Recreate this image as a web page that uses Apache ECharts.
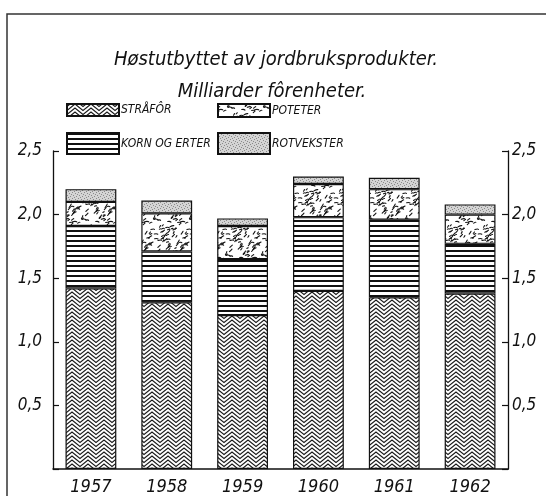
<!DOCTYPE html>
<html>
<head>
<meta charset="utf-8">
<script src="https://cdn.jsdelivr.net/npm/echarts@6/dist/echarts.min.js"></script>
<style>
html,body{margin:0;padding:0;background:#fff;}
#c{width:546px;height:496px;}
</style>
</head>
<body>
<div id="c"></div>
<script>
// ---- data ----
const years = ['1957', '1958', '1959', '1960', '1961', '1962'];
const seriesNames = ['STRÅFÔR', 'KORN OG ERTER', 'POTETER', 'ROTVEKSTER'];
const strafor = [1.42, 1.31, 1.21, 1.40, 1.35, 1.38];
const kornOgErter = [0.49, 0.40, 0.44, 0.58, 0.61, 0.39];
const poteter = [0.19, 0.30, 0.26, 0.26, 0.24, 0.23];
const rotvekster = [0.10, 0.10, 0.06, 0.06, 0.09, 0.08];
const yTicks = [0, 0.5, 1.0, 1.5, 2.0, 2.5];
const titleLines = ['Høstutbyttet av jordbruksprodukter.', 'Milliarder fôrenheter.'];

// ---- patterns (styling only) ----
function mk(w, h) { const c = document.createElement('canvas'); c.width = w; c.height = h; return c; }
function zigzag() {
  const c = mk(16, 16), g = c.getContext('2d');
  g.fillStyle = '#fff'; g.fillRect(0, 0, 16, 16);
  g.strokeStyle = '#1a1a1a'; g.lineWidth = 1.15;
  for (let y = -20; y <= 36; y += 4) {
    g.beginPath(); g.moveTo(-0.5, y + 7); g.lineTo(8, y); g.lineTo(16.5, y + 7); g.stroke();
  }
  return c;
}
function hlines() {
  const c = mk(4, 5), g = c.getContext('2d');
  g.fillStyle = '#fff'; g.fillRect(0, 0, 4, 5);
  g.fillStyle = '#111'; g.fillRect(0, 0, 4, 2);
  return c;
}
function squiggle() {
  const S = 36, c = mk(S, S), g = c.getContext('2d');
  g.fillStyle = '#fff'; g.fillRect(0, 0, S, S);
  g.strokeStyle = '#151515'; g.lineWidth = 1.1; g.lineCap = 'round';
  let s = 11;
  const r = () => { s = (s * 1103515245 + 12345) % 2147483648; return s / 2147483648; };
  for (let i = 0; i < 70; i++) {
    const x = r() * S, y = r() * S, a = -1.2 + r() * 1.4, L = 1.5 + r() * 3;
    for (const dx of [-S, 0, S]) for (const dy of [-S, 0, S]) {
      g.beginPath();
      g.moveTo(x + dx, y + dy);
      g.quadraticCurveTo(x + dx + L * 0.5 * Math.cos(a) + 0.8, y + dy + L * 0.5 * Math.sin(a) - 0.8,
                         x + dx + L * Math.cos(a), y + dy + L * Math.sin(a));
      g.stroke();
    }
  }
  return c;
}
function stipple() {
  const S = 6, c = mk(S, S), g = c.getContext('2d');
  g.fillStyle = '#d4d4d4'; g.fillRect(0, 0, S, S);
  g.fillStyle = '#8a8a8a';
  [[0,0],[3,1],[1,3],[4,4],[5,2],[2,5]].forEach(p => g.fillRect(p[0], p[1], 1, 1));
  return c;
}
const fills = [zigzag(), hlines(), squiggle(), stipple()].map(im => ({ image: im, repeat: 'repeat' }));

const FONT = "'DejaVu Sans Condensed', 'DejaVu Sans', sans-serif";
const fmt = v => v === 0 ? '' : v.toFixed(1).replace('.', ',');

const values = [strafor, kornOgErter, poteter, rotvekster];
const series = seriesNames.map((n, i) => ({
  name: n, type: 'bar', stack: 'total', data: values[i],
  barCategoryGap: '33%',
  itemStyle: { color: fills[i], borderColor: '#111', borderWidth: 1.2 },
  emphasis: { disabled: true }
}));

const legendPos = [
  { left: 66, top: 103, h: 12 },
  { left: 66, top: 132, h: 21 },
  { left: 217, top: 103, h: 13 },
  { left: 217, top: 132, h: 21 }
];
const legends = seriesNames.map((n, i) => ({
  data: [n], left: legendPos[i].left, top: legendPos[i].top, padding: 0,
  itemWidth: 52, itemHeight: legendPos[i].h, icon: 'rect', selectedMode: false,
  textStyle: { fontFamily: FONT, fontStyle: 'italic', fontSize: 12, color: '#111', padding: [0, 0, 0, -3] }
}));

const chart = echarts.init(document.getElementById('c'), null, { renderer: 'canvas' });
chart.setOption({
  animation: false,
  backgroundColor: '#fff',
  title: [
    { text: titleLines[0], left: 271, top: 45, textAlign: 'center',
      textStyle: { fontFamily: FONT, fontStyle: 'italic', fontWeight: 'normal', fontSize: 20, color: '#111' } },
    { text: titleLines[1], left: 267, top: 77, textAlign: 'center',
      textStyle: { fontFamily: FONT, fontStyle: 'italic', fontWeight: 'normal', fontSize: 20, color: '#111' } }
  ],
  legend: legends,
  grid: { left: 53, right: 38, top: 151, bottom: 27, containLabel: false },
  xAxis: {
    type: 'category', data: years,
    axisLine: { show: true, lineStyle: { color: '#111', width: 1.5 } },
    axisTick: { show: false },
    axisLabel: { fontFamily: FONT, fontStyle: 'italic', fontSize: 18, color: '#111', margin: 9 },
    splitLine: { show: false }
  },
  yAxis: [0, 1].map(k => ({
    type: 'value', min: yTicks[0], max: yTicks[yTicks.length - 1], interval: yTicks[1] - yTicks[0],
    position: k === 0 ? 'left' : 'right',
    axisLine: { show: true, lineStyle: { color: '#111', width: 1.3 } },
    axisTick: { show: true, inside: true, length: 6, lineStyle: { color: '#111', width: 1.2 } },
    axisLabel: { formatter: fmt, fontFamily: FONT, fontStyle: 'italic', fontSize: 17, color: '#111',
                 margin: k === 0 ? 11 : 4 },
    splitLine: { show: false }
  })),
  graphic: [{
    type: 'polyline', silent: true,
    shape: { points: [[7, 496], [7, 14], [546, 14]] },
    style: { stroke: '#333', lineWidth: 1.5, fill: null }
  }],
  series: series
});
</script>
</body>
</html>
